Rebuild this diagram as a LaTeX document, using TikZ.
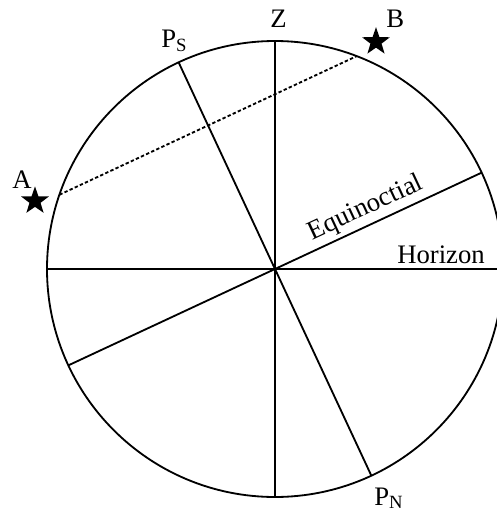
\documentclass[tikz,border=0pt]{standalone}
\usepackage{fontspec}
\setmainfont{Liberation Serif}
\usetikzlibrary{shapes.geometric}

\begin{document}
\begin{tikzpicture}[
    font=\fontsize{19}{22}\selectfont,
    ln/.style={line width=1.3pt},
    chord/.style={ln, dash pattern=on 2.4pt off 1.6pt},
    starmark/.style={star, star points=5, star point ratio=2.5, fill=black, draw=none, inner sep=0pt, minimum size=0.73cm},
    lbl/.style={inner sep=0pt, anchor=base west},
]
\useasboundingbox (-6.875,-6.05) rectangle (5.525,6.725);
\def\R{5.7}
% points on the sphere
\coordinate (O) at (0,0);
\coordinate (Z) at (90:\R);
\coordinate (Nd) at (-90:\R);
\coordinate (HW) at (180:\R);
\coordinate (HE) at (0:\R);
\coordinate (PS) at (115:\R);
\coordinate (PN) at (-65:\R);
\coordinate (EqE) at (25:\R);
\coordinate (EqW) at (205:\R);
\coordinate (A) at (161:\R);
\coordinate (B) at (69:\R);

\draw[ln] (O) circle (\R);
\draw[ln] (Z) -- (Nd);
\draw[ln] (HW) -- (HE);
\draw[ln] (PS) -- (PN);
\draw[ln] (EqW) -- node[pos=0.737, sloped, above, inner sep=2.5pt] (eqlbl) {Equinoctial} (EqE);
\draw[chord] (A) -- (B);

\node[starmark] (sA) at (-6.0,1.70) {};
\node[starmark] (sB) at (2.525,5.68) {};

\node[lbl] (lZ) at (-0.12,6.05) {Z};
\node[lbl] (lB) at (2.775,6.05) {B};
\node[lbl] (lA) at (-6.575,2.025) {A};
\node[lbl] (lPS) at (-2.85,5.55) {P\textsubscript{S}};
\node[lbl] (lPN) at (2.475,-5.9) {P\textsubscript{N}};
\node[lbl] (lH) at (3.05,0.15) {Horizon};
\end{tikzpicture}
\end{document}
